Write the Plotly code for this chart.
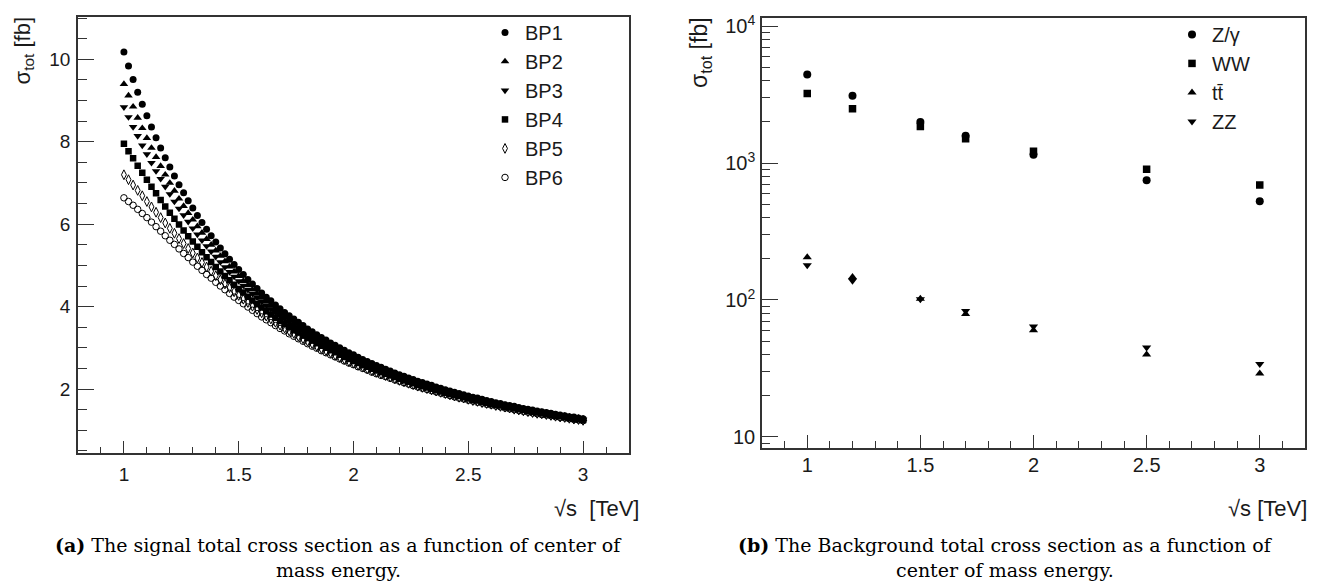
import plotly.graph_objects as go

# ---------------- data: panel (a) signal ----------------
sqrt_s_signal = [
    1.00, 1.02, 1.04, 1.06, 1.08, 1.10, 1.12, 1.14, 1.16, 1.18, 1.20,
    1.22, 1.24, 1.26, 1.28, 1.30, 1.32, 1.34, 1.36, 1.38, 1.40,
    1.42, 1.44, 1.46, 1.48, 1.50, 1.52, 1.54, 1.56, 1.58, 1.60,
    1.62, 1.64, 1.66, 1.68, 1.70, 1.72, 1.74, 1.76, 1.78, 1.80,
    1.82, 1.84, 1.86, 1.88, 1.90, 1.92, 1.94, 1.96, 1.98, 2.00,
    2.02, 2.04, 2.06, 2.08, 2.10, 2.12, 2.14, 2.16, 2.18, 2.20,
    2.22, 2.24, 2.26, 2.28, 2.30, 2.32, 2.34, 2.36, 2.38, 2.40,
    2.42, 2.44, 2.46, 2.48, 2.50, 2.52, 2.54, 2.56, 2.58, 2.60,
    2.62, 2.64, 2.66, 2.68, 2.70, 2.72, 2.74, 2.76, 2.78, 2.80,
    2.82, 2.84, 2.86, 2.88, 2.90, 2.92, 2.94, 2.96, 2.98, 3.00,
]

bp1 = [
    10.18, 9.84, 9.51, 9.20, 8.91, 8.63, 8.36, 8.10, 7.85, 7.61, 7.39,
    7.17, 6.96, 6.76, 6.57, 6.39, 6.21, 6.04, 5.88, 5.72, 5.57,
    5.42, 5.28, 5.15, 5.02, 4.90, 4.78, 4.66, 4.55, 4.44, 4.33,
    4.23, 4.14, 4.04, 3.95, 3.86, 3.78, 3.70, 3.62, 3.54, 3.46,
    3.39, 3.32, 3.25, 3.19, 3.12, 3.06, 3.00, 2.94, 2.88, 2.83,
    2.77, 2.72, 2.67, 2.62, 2.57, 2.53, 2.48, 2.44, 2.39, 2.35,
    2.31, 2.27, 2.23, 2.19, 2.16, 2.12, 2.09, 2.05, 2.02, 1.98,
    1.95, 1.92, 1.89, 1.86, 1.83, 1.80, 1.78, 1.75, 1.72, 1.70,
    1.67, 1.65, 1.62, 1.60, 1.58, 1.55, 1.53, 1.51, 1.49, 1.47,
    1.45, 1.43, 1.41, 1.39, 1.37, 1.35, 1.33, 1.32, 1.30, 1.28,
]
bp2 = [
    9.40, 9.12, 8.85, 8.58, 8.33, 8.09, 7.85, 7.63, 7.41, 7.20, 7.00,
    6.81, 6.62, 6.44, 6.27, 6.11, 5.95, 5.79, 5.64, 5.50, 5.36,
    5.23, 5.10, 4.97, 4.85, 4.74, 4.62, 4.52, 4.41, 4.31, 4.21,
    4.12, 4.02, 3.94, 3.85, 3.77, 3.69, 3.61, 3.53, 3.46, 3.39,
    3.32, 3.25, 3.18, 3.12, 3.06, 3.00, 2.94, 2.89, 2.83, 2.78,
    2.73, 2.67, 2.63, 2.58, 2.53, 2.49, 2.44, 2.40, 2.36, 2.32,
    2.28, 2.24, 2.20, 2.16, 2.13, 2.09, 2.06, 2.02, 1.99, 1.96,
    1.93, 1.90, 1.87, 1.84, 1.81, 1.78, 1.76, 1.73, 1.70, 1.68,
    1.65, 1.63, 1.61, 1.58, 1.56, 1.54, 1.52, 1.50, 1.47, 1.45,
    1.43, 1.41, 1.39, 1.38, 1.36, 1.34, 1.32, 1.30, 1.29, 1.27,
]
bp3 = [
    8.84, 8.60, 8.36, 8.14, 7.91, 7.70, 7.49, 7.29, 7.10, 6.91, 6.73,
    6.55, 6.38, 6.22, 6.06, 5.90, 5.75, 5.61, 5.47, 5.34, 5.21,
    5.08, 4.96, 4.84, 4.73, 4.62, 4.51, 4.41, 4.31, 4.22, 4.12,
    4.03, 3.94, 3.86, 3.78, 3.70, 3.62, 3.54, 3.47, 3.40, 3.33,
    3.26, 3.20, 3.14, 3.07, 3.01, 2.96, 2.90, 2.85, 2.79, 2.74,
    2.69, 2.64, 2.59, 2.55, 2.50, 2.46, 2.41, 2.37, 2.33, 2.29,
    2.25, 2.21, 2.18, 2.14, 2.11, 2.07, 2.04, 2.01, 1.97, 1.94,
    1.91, 1.88, 1.85, 1.82, 1.80, 1.77, 1.74, 1.72, 1.69, 1.67,
    1.64, 1.62, 1.59, 1.57, 1.55, 1.53, 1.51, 1.48, 1.46, 1.44,
    1.42, 1.40, 1.39, 1.37, 1.35, 1.33, 1.31, 1.30, 1.28, 1.26,
]
bp4 = [
    7.95, 7.77, 7.60, 7.42, 7.25, 7.08, 6.91, 6.75, 6.59, 6.43, 6.28,
    6.13, 5.99, 5.85, 5.71, 5.58, 5.45, 5.32, 5.20, 5.08, 4.96,
    4.85, 4.74, 4.64, 4.53, 4.43, 4.34, 4.24, 4.15, 4.06, 3.98,
    3.89, 3.81, 3.73, 3.65, 3.58, 3.51, 3.44, 3.37, 3.30, 3.24,
    3.18, 3.11, 3.05, 3.00, 2.94, 2.89, 2.83, 2.78, 2.73, 2.68,
    2.63, 2.58, 2.54, 2.49, 2.45, 2.41, 2.37, 2.33, 2.29, 2.25,
    2.21, 2.18, 2.14, 2.10, 2.07, 2.04, 2.01, 1.97, 1.94, 1.91,
    1.88, 1.85, 1.83, 1.80, 1.77, 1.74, 1.72, 1.69, 1.67, 1.64,
    1.62, 1.60, 1.57, 1.55, 1.53, 1.51, 1.49, 1.47, 1.45, 1.43,
    1.41, 1.39, 1.37, 1.35, 1.34, 1.32, 1.30, 1.28, 1.27, 1.25,
]
bp5 = [
    7.20, 7.08, 6.95, 6.82, 6.69, 6.55, 6.42, 6.29, 6.16, 6.03, 5.90,
    5.78, 5.65, 5.53, 5.41, 5.30, 5.18, 5.07, 4.96, 4.86, 4.75,
    4.65, 4.55, 4.46, 4.36, 4.27, 4.18, 4.10, 4.01, 3.93, 3.85,
    3.77, 3.70, 3.62, 3.55, 3.48, 3.41, 3.35, 3.28, 3.22, 3.16,
    3.10, 3.04, 2.98, 2.93, 2.88, 2.82, 2.77, 2.72, 2.67, 2.63,
    2.58, 2.54, 2.49, 2.45, 2.41, 2.37, 2.33, 2.29, 2.25, 2.21,
    2.18, 2.14, 2.11, 2.07, 2.04, 2.01, 1.98, 1.95, 1.92, 1.89,
    1.86, 1.83, 1.80, 1.78, 1.75, 1.72, 1.70, 1.67, 1.65, 1.63,
    1.60, 1.58, 1.56, 1.54, 1.51, 1.49, 1.47, 1.45, 1.43, 1.41,
    1.40, 1.38, 1.36, 1.34, 1.32, 1.31, 1.29, 1.27, 1.26, 1.24,
]
bp6 = [
    6.64, 6.55, 6.46, 6.36, 6.26, 6.16, 6.05, 5.94, 5.83, 5.72, 5.61,
    5.51, 5.40, 5.29, 5.19, 5.08, 4.98, 4.88, 4.78, 4.69, 4.59,
    4.50, 4.41, 4.32, 4.23, 4.15, 4.07, 3.99, 3.91, 3.83, 3.75,
    3.68, 3.61, 3.54, 3.47, 3.41, 3.34, 3.28, 3.22, 3.16, 3.10,
    3.04, 2.99, 2.93, 2.88, 2.83, 2.78, 2.73, 2.68, 2.63, 2.59,
    2.54, 2.50, 2.46, 2.41, 2.37, 2.33, 2.30, 2.26, 2.22, 2.19,
    2.15, 2.12, 2.08, 2.05, 2.02, 1.99, 1.96, 1.93, 1.90, 1.87,
    1.84, 1.81, 1.78, 1.76, 1.73, 1.71, 1.68, 1.66, 1.63, 1.61,
    1.59, 1.57, 1.54, 1.52, 1.50, 1.48, 1.46, 1.44, 1.42, 1.40,
    1.38, 1.37, 1.35, 1.33, 1.31, 1.30, 1.28, 1.26, 1.25, 1.23,
]
signal_names = ["BP1", "BP2", "BP3", "BP4", "BP5", "BP6"]

# ---------------- data: panel (b) background ----------------
sqrt_s_bkg = [1.0, 1.2, 1.5, 1.7, 2.0, 2.5, 3.0]
zgamma = [4425, 3100, 1990, 1585, 1150, 750, 525]
ww = [3220, 2495, 1850, 1505, 1220, 900, 690]
ttbar = [205, 147, 102, 79, 60, 40, 29]
zz = [179, 138, 101, 83, 64, 45, 34]
bkg_names = ["Z/\u03b3", "WW", "tt\u0304", "ZZ"]

# y tick labels of panel (b)
log_tickvals = [10, 100, 1000, 10000]
log_ticktext = ["10", "10<sup>2</sup>", "10<sup>3</sup>", "10<sup>4</sup>"]
log_minor = [9] + [m * 10 for m in range(2, 10)] + [m * 100 for m in range(2, 10)] + [m * 1000 for m in range(2, 10)]

W, H = 1318, 582
SANS = "Arial, Liberation Sans, Helvetica, sans-serif"
SERIF = "DejaVu Serif, serif"
INK = "#1a1a1a"
AX = "#333333"

fig = go.Figure()

sig_series = [bp1, bp2, bp3, bp4, bp5, bp6]
sig_symbols = ["circle", "triangle-up", "triangle-down", "square", "diamond-tall-open", "circle-open"]
sig_sizes = [7, 7.5, 7.5, 6.5, 7, 6.5]
sig_lw = [0, 0, 0, 0, 1, 1]
for name, ys, sym, sz, lw in zip(signal_names, sig_series, sig_symbols, sig_sizes, sig_lw):
    fig.add_trace(go.Scatter(
        x=sqrt_s_signal, y=ys, mode="markers", name=name, legendgroup=name,
        marker=dict(symbol=sym, size=sz, color="black", line=dict(width=lw, color="black")),
        xaxis="x", yaxis="y", legend="legend",
    ))

bkg_series = [zgamma, ww, ttbar, zz]
bkg_symbols = ["circle", "square", "triangle-up", "triangle-down"]
bkg_sizes = [8, 7.5, 8, 8]
for name, ys, sym, sz in zip(bkg_names, bkg_series, bkg_symbols, bkg_sizes):
    fig.add_trace(go.Scatter(
        x=sqrt_s_bkg, y=ys, mode="markers", name=name, legendgroup=name,
        marker=dict(symbol=sym, size=sz, color="black", line=dict(width=0)),
        xaxis="x2", yaxis="y2", legend="legend2",
    ))

def base_axis(fs):
    return dict(
        showline=True, linecolor=AX, linewidth=1.5, mirror=True,
        ticks="inside", tickcolor=AX, tickwidth=1.2,
        showgrid=False, zeroline=False,
        tickfont=dict(family=SANS, size=fs, color=INK),
    )

def px(x):
    return x / W

def py(y):
    return 1 - y / H

xa = base_axis(19)
xa.update(domain=[px(78), px(629)], range=[0.8, 3.2], tick0=1, dtick=0.5, ticklen=13,
          minor=dict(ticks="inside", dtick=0.1, ticklen=7, tickcolor=AX, tickwidth=1.2),
          anchor="y", ticklabelstandoff=3)
ya = base_axis(19)
ya.update(domain=[py(452), py(11)], range=[0.44, 11.03], tick0=0, dtick=2, ticklen=16,
          minor=dict(ticks="inside", dtick=0.5, ticklen=9, tickcolor=AX, tickwidth=1.2),
          anchor="x", ticklabelstandoff=2)
xb = base_axis(20)
xb.update(domain=[px(762), px(1305)], range=[0.8, 3.2], tick0=1, dtick=0.5, ticklen=13,
          minor=dict(ticks="inside", dtick=0.1, ticklen=7, tickcolor=AX, tickwidth=1.2),
          anchor="y2", ticklabelstandoff=-2)
yb = base_axis(20)
yb.update(domain=[py(446.7), py(12.3)], type="log", range=[0.918, 4.058],
          tickmode="array", tickvals=log_tickvals, ticktext=log_ticktext, ticklen=16,
          minor=dict(ticks="inside", tickmode="array", tickvals=log_minor, ticklen=8, tickcolor=AX, tickwidth=1.2),
          anchor="x2", ticklabelstandoff=1)

legend_common = dict(
    xanchor="left", yanchor="top", bgcolor="rgba(0,0,0,0)", borderwidth=0,
    itemsizing="trace", traceorder="normal",
)

fig.update_layout(
    width=W, height=H, margin=dict(l=0, r=0, t=0, b=0),
    paper_bgcolor="white", plot_bgcolor="white",
    xaxis=xa, yaxis=ya, xaxis2=xb, yaxis2=yb,
    showlegend=True,
    legend=dict(x=px(485), y=py(7), font=dict(family=SANS, size=20, color=INK),
                tracegroupgap=0, **legend_common),
    legend2=dict(x=px(1172), y=py(9), font=dict(family=SANS, size=20, color=INK),
                 tracegroupgap=2, **legend_common),
    font=dict(family=SANS, color=INK),
)

cap_font = dict(family=SERIF, size=19, color="black")
annotations = [
    dict(text="\u03c3<sub>tot</sub> [fb]", textangle=-90, x=px(24), y=py(10), xref="paper", yref="paper",
         xanchor="center", yanchor="top", showarrow=False, font=dict(family=SANS, size=22, color=INK)),
    dict(text="\u03c3<sub>tot</sub> [fb]", textangle=-90, x=px(701), y=py(10), xref="paper", yref="paper",
         xanchor="center", yanchor="top", showarrow=False, font=dict(family=SANS, size=23, color=INK)),
    dict(text="\u221as  [TeV]", x=px(641), y=py(508), xref="paper", yref="paper",
         xanchor="right", yanchor="middle", showarrow=False, font=dict(family=SANS, size=22, color=INK)),
    dict(text="\u221as [TeV]", x=px(1309), y=py(508), xref="paper", yref="paper",
         xanchor="right", yanchor="middle", showarrow=False, font=dict(family=SANS, size=22, color=INK)),
    dict(text="<b>(a)</b> The signal total cross section as a function of center of",
         x=px(338), y=py(545), xref="paper", yref="paper", xanchor="center", yanchor="middle",
         showarrow=False, borderpad=0, font=cap_font),
    dict(text="mass energy.",
         x=px(338), y=py(570), xref="paper", yref="paper", xanchor="center", yanchor="middle",
         showarrow=False, borderpad=0, font=cap_font),
    dict(text="<b>(b)</b> The Background total cross section as a function of",
         x=px(1005), y=py(545), xref="paper", yref="paper", xanchor="center", yanchor="middle",
         showarrow=False, borderpad=0, font=cap_font),
    dict(text="center of mass energy.",
         x=px(1005), y=py(570), xref="paper", yref="paper", xanchor="center", yanchor="middle",
         showarrow=False, borderpad=0, font=cap_font),
]
fig.update_layout(annotations=annotations)

fig.write_html("out.html")
